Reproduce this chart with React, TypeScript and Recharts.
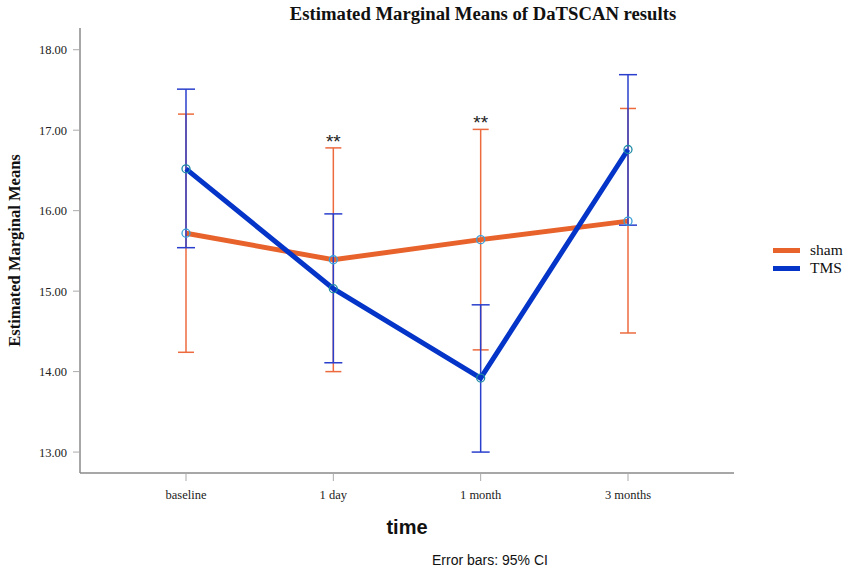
import React from 'react';
import {
  LineChart,
  Line,
  XAxis,
  YAxis,
  ErrorBar,
  LabelList,
} from 'recharts';

const categories = ['baseline', '1 day', '1 month', '3 months'];

const shamMean = [15.72, 15.39, 15.64, 15.87];
const shamLower = [14.24, 14.0, 14.27, 14.48];
const shamUpper = [17.2, 16.78, 17.01, 17.27];

const tmsMean = [16.52, 15.03, 13.92, 16.76];
const tmsLower = [15.54, 14.11, 13.0, 15.82];
const tmsUpper = [17.51, 15.96, 14.83, 17.69];

const significance = ['', '**', '**', ''];

const yTicks = [13, 14, 15, 16, 17, 18];

const SHAM = '#e8622c';
const TMS = '#0434c8';
const SHAM_BAR = '#ec6a3e';
const TMS_BAR = '#2a3fcc';

const data = categories.map((name, i) => ({
  name,
  sham: shamMean[i],
  shamErr: [shamMean[i] - shamLower[i], shamUpper[i] - shamMean[i]],
  shamHi: shamUpper[i],
  tms: tmsMean[i],
  tmsErr: [tmsMean[i] - tmsLower[i], tmsUpper[i] - tmsMean[i]],
  sig: significance[i],
}));

const serif = '"Liberation Serif", "Times New Roman", serif';
const sans = '"Liberation Sans", Arial, sans-serif';

const legendItems = [
  { label: 'sham', color: SHAM },
  { label: 'TMS', color: TMS },
];

export default function App() {
  return (
    <div style={{ position: 'absolute', left: 0, top: 0, width: 851, height: 575, background: '#fff' }}>
      <div
        style={{
          position: 'absolute',
          left: 0,
          width: 966,
          top: 3,
          textAlign: 'center',
          fontFamily: serif,
          fontWeight: 'bold',
          fontSize: 18.7,
          color: '#111',
        }}
      >
        Estimated Marginal Means of DaTSCAN results
      </div>
      <LineChart
        width={851}
        height={575}
        data={data}
        margin={{ top: 28, right: 117, bottom: 72, left: 30 }}
      >
        <XAxis
          dataKey="name"
          padding={{ left: 106, right: 106 }}
          axisLine={{ stroke: '#8a8a8a', strokeWidth: 1.5 }}
          tickLine={{ stroke: '#aaa' }}
          tickSize={8}
          tickMargin={9}
          height={30}
          tick={{ fontFamily: serif, fontSize: 12.5, fill: '#222' }}
        />
        <YAxis
          width={50}
          domain={[12.74, 18.27]}
          ticks={yTicks}
          tickFormatter={(v: number) => v.toFixed(2)}
          axisLine={{ stroke: '#8a8a8a', strokeWidth: 1.5 }}
          tickLine={{ stroke: '#aaa' }}
          tickSize={7}
          tickMargin={6}
          tick={{ fontFamily: serif, fontSize: 12.5, fill: '#222' }}
          label={{
            value: 'Estimated Marginal Means',
            angle: -90,
            position: 'left',
            offset: 16,
            textAnchor: 'middle',
            style: { fontFamily: serif, fontWeight: 'bold', fontSize: 16.5, fill: '#111' },
          }}
        />
        <Line
          dataKey="sham"
          stroke={SHAM}
          strokeWidth={5}
          isAnimationActive={false}
          dot={{ r: 4, fill: 'none', stroke: '#3a9fd8', strokeWidth: 1.3 }}
          activeDot={false}
        >
          <ErrorBar dataKey="shamErr" width={8} stroke={SHAM_BAR} strokeWidth={1.5} />
        </Line>
        <Line
          dataKey="tms"
          stroke={TMS}
          strokeWidth={5}
          isAnimationActive={false}
          dot={{ r: 4, fill: 'none', stroke: '#1f8aa6', strokeWidth: 1.3 }}
          activeDot={false}
        >
          <ErrorBar dataKey="tmsErr" width={9} stroke={TMS_BAR} strokeWidth={1.5} />
        </Line>
        <Line
          dataKey="shamHi"
          stroke="none"
          dot={false}
          activeDot={false}
          legendType="none"
          isAnimationActive={false}
        >
          <LabelList
            dataKey="sig"
            position="top"
            offset={0}
            style={{ fontFamily: sans, fontSize: 19, fill: '#222' }}
          />
        </Line>
      </LineChart>
      <div style={{ position: 'absolute', left: 773, top: 241 }}>
        {legendItems.map((it) => (
          <div key={it.label} style={{ display: 'flex', alignItems: 'center', height: 18 }}>
            <div style={{ width: 27, height: 5, background: it.color, marginRight: 10 }} />
            <span style={{ fontFamily: serif, fontSize: 15.5, color: '#111' }}>{it.label}</span>
          </div>
        ))}
      </div>
      <div
        style={{
          position: 'absolute',
          left: 407 - 40,
          width: 80,
          top: 516,
          textAlign: 'center',
          fontFamily: sans,
          fontWeight: 'bold',
          fontSize: 20,
          color: '#111',
        }}
      >
        time
      </div>
      <div
        style={{
          position: 'absolute',
          left: 490 - 80,
          width: 160,
          top: 552,
          textAlign: 'center',
          fontFamily: sans,
          fontSize: 14,
          color: '#111',
        }}
      >
        Error bars: 95% CI
      </div>
    </div>
  );
}
